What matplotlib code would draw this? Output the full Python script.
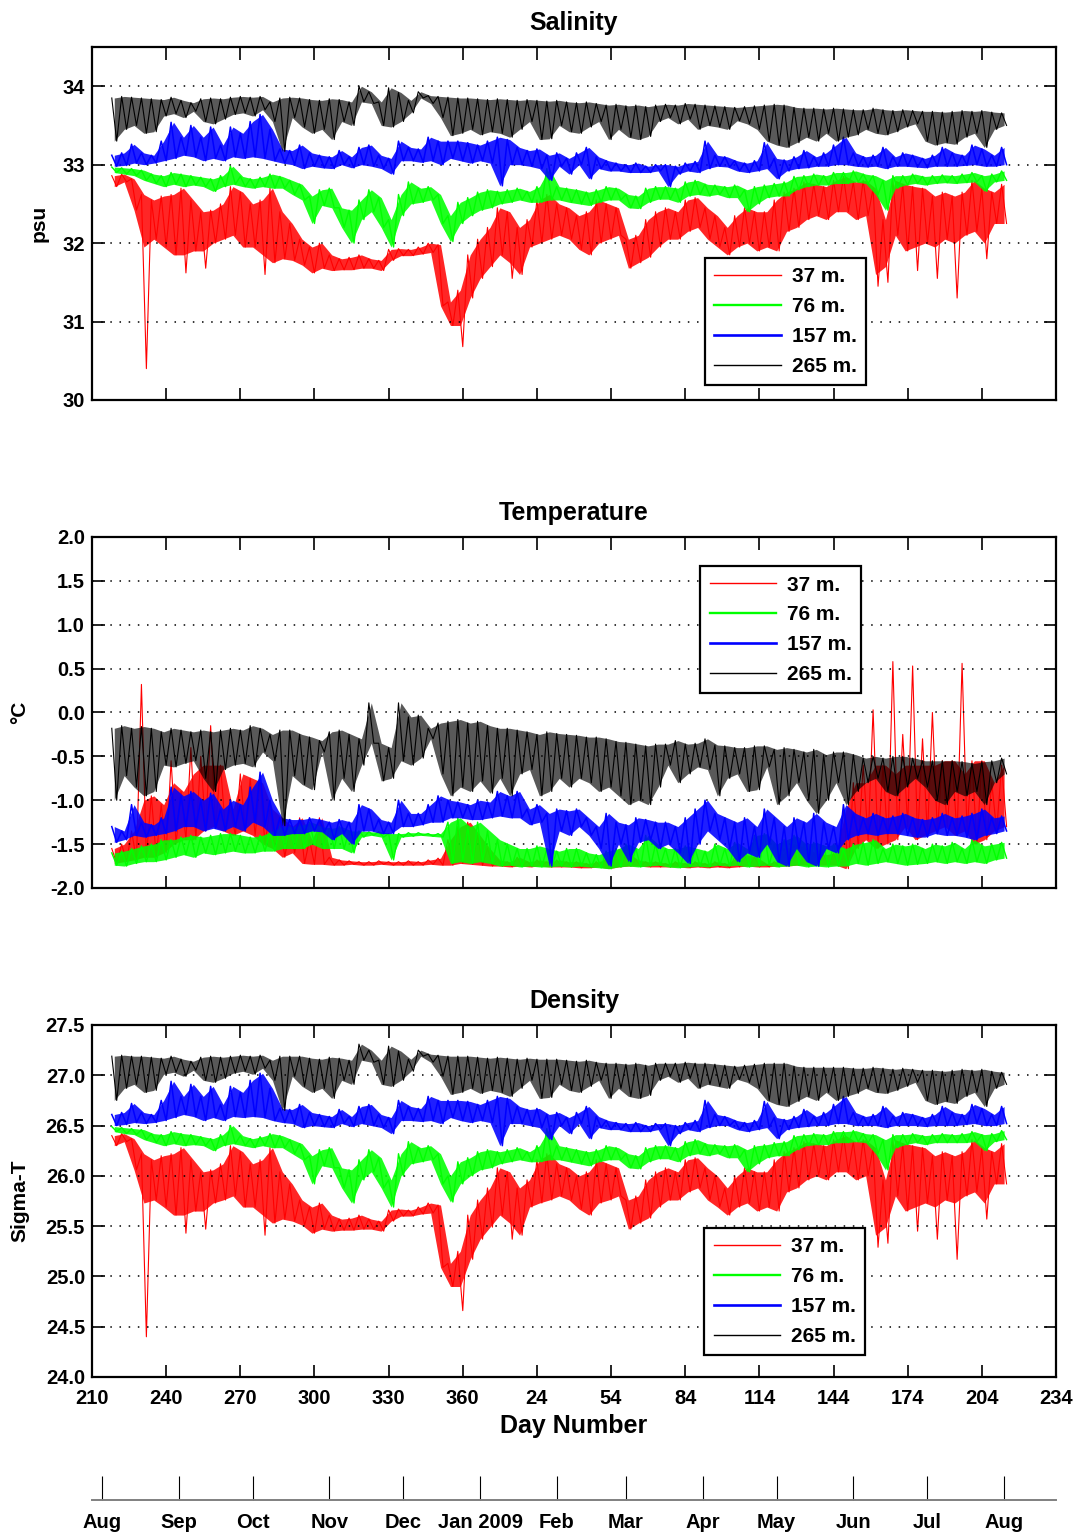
import numpy as np
import matplotlib
matplotlib.use("Agg")
import matplotlib.pyplot as plt
from matplotlib.lines import Line2D

plt.rcParams['font.family'] = ['Liberation Sans', 'DejaVu Sans']
plt.rcParams['font.weight'] = 'bold'

# ---------------- data (4-day bins starting at day 217, continuous day number) ----------
bin_start = np.arange(217, 581, 4)          # 91 bins
depth_labels = ['37 m.', '76 m.', '157 m.', '265 m.']
depth_colors = ['#ff0000', '#00ff00', '#0000ff', '#000000']

# Salinity (psu): per-bin maximum / minimum
sal_265_hi = [33.85, 33.87, 33.86, 33.85, 33.84, 33.83, 33.86, 33.82, 33.79, 33.84,
              33.85, 33.84, 33.86, 33.87, 33.86, 33.87, 33.80, 33.85, 33.86, 33.85,
              33.83, 33.82, 33.84, 33.83, 33.80, 34.00, 33.93, 33.80, 33.98, 33.92,
              33.82, 33.93, 33.88, 33.87, 33.86, 33.85, 33.85, 33.84, 33.83, 33.84,
              33.83, 33.82, 33.83, 33.82, 33.81, 33.82, 33.80, 33.79, 33.80, 33.78,
              33.76, 33.77, 33.75, 33.76, 33.74, 33.76, 33.77, 33.76, 33.78, 33.77,
              33.76, 33.75, 33.74, 33.73, 33.74, 33.75, 33.76, 33.77, 33.76, 33.73,
              33.72, 33.72, 33.71, 33.72, 33.71, 33.70, 33.70, 33.72, 33.70, 33.69,
              33.70, 33.69, 33.68, 33.68, 33.67, 33.68, 33.69, 33.68, 33.69, 33.67,
              33.66]
sal_265_lo = [33.30, 33.45, 33.50, 33.40, 33.42, 33.62, 33.65, 33.60, 33.68, 33.55,
              33.52, 33.58, 33.64, 33.66, 33.62, 33.70, 33.55, 33.17, 33.60, 33.48,
              33.40, 33.45, 33.32, 33.55, 33.50, 33.80, 33.78, 33.50, 33.48, 33.55,
              33.66, 33.85, 33.78, 33.60, 33.37, 33.40, 33.45, 33.38, 33.42, 33.40,
              33.35, 33.45, 33.55, 33.32, 33.33, 33.50, 33.42, 33.40, 33.48, 33.55,
              33.32, 33.45, 33.35, 33.32, 33.36, 33.55, 33.60, 33.52, 33.58, 33.45,
              33.50, 33.48, 33.45, 33.56, 33.52, 33.45, 33.30, 33.25, 33.22, 33.28,
              33.35, 33.30, 33.40, 33.30, 33.35, 33.38, 33.45, 33.40, 33.38, 33.42,
              33.48, 33.52, 33.30, 33.25, 33.28, 33.26, 33.35, 33.40, 33.22, 33.45,
              33.50]
sal_157_hi = [33.12, 33.15, 33.26, 33.15, 33.12, 33.30, 33.54, 33.35, 33.50, 33.35,
              33.48, 33.25, 33.48, 33.40, 33.55, 33.64, 33.45, 33.20, 33.18, 33.25,
              33.15, 33.12, 33.10, 33.18, 33.10, 33.22, 33.25, 33.12, 33.08, 33.30,
              33.22, 33.20, 33.35, 33.30, 33.30, 33.30, 33.28, 33.25, 33.30, 33.35,
              33.32, 33.22, 33.18, 33.20, 33.12, 33.15, 33.08, 33.15, 33.22, 33.10,
              33.05, 33.02, 33.00, 33.02, 32.98, 33.00, 33.00, 32.98, 33.02, 33.04,
              33.30, 33.12, 33.10, 33.05, 33.02, 33.05, 33.28, 33.08, 33.06, 33.10,
              33.18, 33.10, 33.15, 33.25, 33.35, 33.15, 33.10, 33.12, 33.22, 33.10,
              33.15, 33.12, 33.08, 33.12, 33.22, 33.15, 33.12, 33.25, 33.20, 33.12,
              33.22]
sal_157_lo = [32.98, 32.99, 33.02, 33.00, 33.02, 33.05, 33.08, 33.12, 33.10, 33.05,
              33.08, 33.05, 33.10, 33.08, 33.10, 33.08, 33.05, 33.02, 33.00, 32.95,
              32.98, 32.96, 32.95, 33.00, 32.96, 33.00, 32.98, 32.95, 32.88, 33.05,
              33.05, 33.03, 33.05, 33.00, 33.08, 33.05, 33.02, 33.05, 33.02, 32.73,
              33.00, 33.00, 32.98, 32.95, 32.80, 32.98, 32.88, 33.00, 32.82, 32.95,
              32.92, 32.92, 32.90, 32.90, 32.90, 32.92, 32.72, 32.88, 32.92, 32.90,
              32.95, 32.98, 32.97, 32.92, 32.90, 32.92, 32.95, 32.82, 32.92, 32.95,
              32.96, 32.98, 32.98, 33.00, 33.00, 32.98, 32.97, 32.98, 32.95, 32.98,
              32.98, 32.97, 32.96, 32.98, 32.98, 32.98, 32.99, 33.00, 32.98, 32.98,
              33.00]
sal_76_hi = [32.97, 32.96, 32.95, 32.93, 32.88, 32.86, 32.90, 32.88, 32.86, 32.84,
             32.82, 32.86, 32.98, 32.85, 32.82, 32.84, 32.88, 32.85, 32.80, 32.75,
             32.60, 32.68, 32.70, 32.45, 32.42, 32.55, 32.68, 32.58, 32.30, 32.62,
             32.78, 32.70, 32.72, 32.62, 32.35, 32.52, 32.58, 32.65, 32.68, 32.66,
             32.68, 32.70, 32.66, 32.72, 32.95, 32.72, 32.70, 32.68, 32.65, 32.68,
             32.72, 32.70, 32.62, 32.60, 32.70, 32.72, 32.72, 32.70, 32.78, 32.80,
             32.75, 32.74, 32.72, 32.74, 32.68, 32.72, 32.74, 32.76, 32.78, 32.85,
             32.86, 32.88, 32.86, 32.90, 32.90, 32.92, 32.88, 32.86, 32.80, 32.86,
             32.86, 32.88, 32.85, 32.86, 32.87, 32.86, 32.88, 32.90, 32.86, 32.88,
             32.92]
sal_76_lo = [32.90, 32.88, 32.86, 32.80, 32.76, 32.72, 32.75, 32.72, 32.74, 32.72,
             32.66, 32.72, 32.75, 32.72, 32.70, 32.72, 32.70, 32.70, 32.62, 32.55,
             32.25, 32.48, 32.45, 32.20, 32.00, 32.30, 32.40, 32.20, 31.95, 32.35,
             32.50, 32.52, 32.55, 32.25, 32.02, 32.25, 32.35, 32.42, 32.45, 32.50,
             32.52, 32.55, 32.52, 32.52, 32.55, 32.55, 32.52, 32.50, 32.48, 32.52,
             32.55, 32.55, 32.45, 32.44, 32.52, 32.56, 32.56, 32.52, 32.60, 32.62,
             32.60, 32.62, 32.58, 32.58, 32.40, 32.50, 32.58, 32.60, 32.60, 32.68,
             32.72, 32.74, 32.74, 32.76, 32.76, 32.78, 32.76, 32.62, 32.42, 32.70,
             32.74, 32.76, 32.74, 32.76, 32.77, 32.76, 32.77, 32.78, 32.66, 32.78,
             32.80]
sal_37_hi = [32.86, 32.88, 32.82, 32.62, 32.55, 32.60, 32.62, 32.70, 32.55, 32.40,
             32.42, 32.50, 32.72, 32.65, 32.50, 32.55, 32.70, 32.40, 32.25, 32.05,
             31.95, 32.00, 31.85, 31.80, 31.82, 31.85, 31.80, 31.78, 31.92, 31.93,
             31.92, 31.95, 32.00, 31.98, 31.25, 31.40, 31.85, 32.05, 32.20, 32.45,
             32.40, 32.20, 32.30, 32.55, 32.62, 32.50, 32.45, 32.35, 32.40, 32.55,
             32.50, 32.45, 32.05, 32.10, 32.30, 32.40, 32.45, 32.40, 32.55, 32.58,
             32.45, 32.35, 32.20, 32.35, 32.45, 32.40, 32.40, 32.55, 32.65, 32.70,
             32.78, 32.75, 32.72, 32.80, 32.85, 32.78, 32.80, 32.70, 32.30, 32.80,
             32.75, 32.72, 32.70, 32.60, 32.65, 32.60, 32.65, 32.80, 32.70, 32.65,
             32.75]
# minima including isolated downward spikes
sal_37_lo = [32.72, 32.78, 32.42, 30.40, 32.05, 31.95, 31.85, 31.62, 31.90, 31.68,
             32.00, 32.05, 32.10, 31.95, 31.95, 31.60, 31.75, 31.80, 31.78, 31.72,
             31.62, 31.68, 31.65, 31.66, 31.66, 31.68, 31.68, 31.65, 31.78, 31.84,
             31.84, 31.86, 31.88, 31.20, 30.95, 30.68, 31.30, 31.55, 31.70, 31.85,
             31.55, 31.60, 31.95, 32.00, 32.05, 32.10, 32.05, 31.92, 31.85, 32.00,
             32.05, 32.10, 31.68, 31.75, 31.82, 31.95, 32.05, 32.05, 32.15, 32.20,
             32.05, 31.95, 31.85, 31.95, 32.00, 31.90, 31.95, 31.90, 32.15, 32.20,
             32.30, 32.35, 32.30, 32.40, 32.40, 32.30, 32.35, 31.45, 31.50, 32.10,
             31.90, 31.65, 32.00, 31.55, 32.05, 31.30, 32.10, 32.15, 31.80, 32.25,
             32.25]
# lower edge of the dense band (spikes excluded)
sal_37_band_lo = [32.72, 32.78, 32.42, 31.95, 32.05, 31.95, 31.85, 31.85, 31.90, 31.90,
                  32.00, 32.05, 32.10, 31.95, 31.95, 31.85, 31.75, 31.80, 31.78, 31.72,
                  31.62, 31.68, 31.65, 31.66, 31.66, 31.68, 31.68, 31.65, 31.78, 31.84,
                  31.84, 31.86, 31.88, 31.20, 30.95, 30.95, 31.30, 31.55, 31.70, 31.85,
                  31.75, 31.60, 31.95, 32.00, 32.05, 32.10, 32.05, 31.92, 31.85, 32.00,
                  32.05, 32.10, 31.68, 31.75, 31.82, 31.95, 32.05, 32.05, 32.15, 32.20,
                  32.05, 31.95, 31.85, 31.95, 32.00, 31.90, 31.95, 31.90, 32.15, 32.20,
                  32.30, 32.35, 32.30, 32.40, 32.40, 32.30, 32.35, 31.60, 31.70, 32.10,
                  31.90, 31.95, 32.00, 31.95, 32.05, 32.00, 32.10, 32.15, 32.00, 32.25,
                  32.25]

# Temperature (deg C)
tmp_265_hi = [-0.18, -0.15, -0.18, -0.16, -0.18, -0.22, -0.18, -0.20, -0.22, -0.20,
              -0.22, -0.20, -0.18, -0.20, -0.15, -0.18, -0.25, -0.20, -0.20, -0.25,
              -0.28, -0.32, -0.22, -0.20, -0.25, -0.30, 0.11, -0.35, -0.40, 0.11,
              -0.05, -0.03, -0.18, -0.12, -0.10, -0.08, -0.12, -0.10, -0.15, -0.18,
              -0.18, -0.20, -0.22, -0.25, -0.22, -0.24, -0.25, -0.26, -0.28, -0.28,
              -0.30, -0.33, -0.34, -0.36, -0.38, -0.36, -0.36, -0.32, -0.36, -0.35,
              -0.30, -0.37, -0.38, -0.40, -0.40, -0.38, -0.38, -0.42, -0.40, -0.42,
              -0.45, -0.42, -0.48, -0.45, -0.45, -0.48, -0.52, -0.50, -0.52, -0.50,
              -0.50, -0.52, -0.55, -0.55, -0.55, -0.55, -0.56, -0.58, -0.56, -0.55,
              -0.52]
tmp_265_lo = [-1.00, -0.72, -0.85, -0.95, -0.90, -0.60, -0.62, -0.58, -0.55, -0.75,
              -0.90, -0.65, -0.60, -0.58, -0.62, -0.45, -0.55, -1.29, -0.72, -0.82,
              -0.88, -0.45, -1.00, -0.75, -0.90, -0.60, -0.35, -0.78, -0.75, -0.55,
              -0.60, -0.52, -0.30, -0.70, -0.95, -0.85, -0.90, -0.78, -0.92, -0.75,
              -0.95, -0.70, -0.65, -0.95, -0.90, -0.75, -0.85, -0.75, -0.80, -0.90,
              -0.85, -0.95, -1.05, -1.00, -1.05, -0.85, -0.60, -0.80, -0.70, -0.62,
              -0.65, -0.95, -0.75, -0.70, -0.90, -0.88, -0.62, -1.05, -0.95, -0.80,
              -1.00, -1.15, -1.00, -0.80, -1.05, -0.90, -0.80, -0.75, -0.90, -0.95,
              -0.85, -0.75, -0.85, -1.00, -1.05, -0.90, -0.95, -0.90, -1.05, -0.80,
              -0.70]
tmp_157_hi = [-1.30, -1.35, -1.05, -1.25, -1.28, -1.20, -0.85, -0.95, -0.90, -1.00,
              -0.92, -1.10, -1.00, -1.05, -0.85, -0.68, -1.00, -1.20, -1.22, -1.22,
              -1.20, -1.22, -1.25, -1.22, -1.25, -1.05, -1.10, -1.22, -1.25, -1.00,
              -1.15, -1.15, -1.05, -0.95, -1.00, -1.02, -1.05, -1.00, -1.02, -0.90,
              -0.95, -0.90, -1.10, -1.05, -1.15, -1.10, -1.12, -1.10, -1.20, -1.30,
              -1.15, -1.25, -1.28, -1.20, -1.22, -1.25, -1.25, -1.30, -1.20, -1.10,
              -1.00, -1.15, -1.20, -1.25, -1.20, -1.30, -1.10, -1.20, -1.30, -1.20,
              -1.25, -1.15, -1.25, -1.30, -1.05, -1.15, -1.20, -1.15, -1.20, -1.18,
              -1.15, -1.20, -1.22, -1.20, -1.15, -1.20, -1.18, -1.15, -1.10, -1.20,
              -1.18]
tmp_157_lo = [-1.48, -1.45, -1.40, -1.42, -1.40, -1.38, -1.35, -1.30, -1.30, -1.35,
              -1.32, -1.35, -1.30, -1.35, -1.25, -1.30, -1.40, -1.40, -1.38, -1.38,
              -1.35, -1.36, -1.45, -1.38, -1.50, -1.35, -1.35, -1.38, -1.38, -1.30,
              -1.30, -1.28, -1.25, -1.25, -1.20, -1.20, -1.22, -1.22, -1.20, -1.18,
              -1.20, -1.20, -1.28, -1.25, -1.75, -1.35, -1.40, -1.30, -1.40, -1.55,
              -1.75, -1.50, -1.70, -1.48, -1.45, -1.55, -1.50, -1.60, -1.72, -1.50,
              -1.35, -1.45, -1.55, -1.70, -1.60, -1.65, -1.50, -1.70, -1.75, -1.55,
              -1.70, -1.75, -1.55, -1.60, -1.45, -1.40, -1.38, -1.40, -1.38, -1.38,
              -1.40, -1.42, -1.42, -1.38, -1.40, -1.40, -1.42, -1.45, -1.40, -1.38,
              -1.35]
tmp_76_hi = [-1.60, -1.58, -1.55, -1.52, -1.50, -1.45, -1.45, -1.42, -1.40, -1.42,
             -1.40, -1.38, -1.38, -1.40, -1.42, -1.40, -1.35, -1.30, -1.30, -1.28,
             -1.25, -1.30, -1.32, -1.30, -1.35, -1.35, -1.36, -1.36, -1.38, -1.38,
             -1.37, -1.37, -1.38, -1.38, -1.25, -1.20, -1.30, -1.25, -1.35, -1.45,
             -1.50, -1.55, -1.55, -1.52, -1.55, -1.58, -1.55, -1.55, -1.60, -1.62,
             -1.58, -1.55, -1.50, -1.55, -1.40, -1.50, -1.55, -1.55, -1.52, -1.55,
             -1.58, -1.50, -1.55, -1.48, -1.55, -1.40, -1.38, -1.50, -1.45, -1.40,
             -1.50, -1.48, -1.52, -1.50, -1.55, -1.50, -1.48, -1.45, -1.55, -1.50,
             -1.52, -1.50, -1.55, -1.50, -1.52, -1.48, -1.55, -1.45, -1.52, -1.50,
             -1.48]
tmp_76_lo = [-1.74, -1.75, -1.72, -1.70, -1.70, -1.68, -1.65, -1.62, -1.65, -1.60,
             -1.62, -1.60, -1.58, -1.60, -1.60, -1.58, -1.58, -1.55, -1.55, -1.55,
             -1.50, -1.55, -1.55, -1.55, -1.60, -1.42, -1.40, -1.42, -1.68, -1.42,
             -1.41, -1.40, -1.41, -1.42, -1.72, -1.70, -1.72, -1.70, -1.72, -1.75,
             -1.74, -1.76, -1.75, -1.76, -1.76, -1.75, -1.76, -1.75, -1.76, -1.77,
             -1.78, -1.76, -1.75, -1.76, -1.75, -1.74, -1.76, -1.77, -1.76, -1.75,
             -1.76, -1.74, -1.75, -1.74, -1.76, -1.75, -1.74, -1.76, -1.75, -1.74,
             -1.76, -1.75, -1.76, -1.75, -1.75, -1.72, -1.74, -1.72, -1.70, -1.72,
             -1.74, -1.73, -1.72, -1.70, -1.72, -1.70, -1.72, -1.70, -1.72, -1.68,
             -1.66]
# maxima including isolated upward spikes
tmp_37_hi = [-1.55, -1.50, -1.35, 0.32, -0.95, -1.05, -0.55, -0.90, -0.40, -0.50,
             -0.15, -0.60, -1.10, -0.70, -0.75, -0.80, -1.10, -1.20, -1.30, -1.20,
             -1.45, -1.20, -1.65, -1.68, -1.69, -1.70, -1.70, -1.69, -1.70, -1.70,
             -1.69, -1.70, -1.68, -1.66, -1.45, -1.30, -1.25, -1.40, -1.55, -1.68,
             -1.70, -1.65, -1.70, -1.68, -1.70, -1.68, -1.70, -1.70, -1.72, -1.70,
             -1.66, -1.55, -1.60, -1.68, -1.70, -1.70, -1.72, -1.70, -1.72, -1.70,
             -1.72, -1.70, -1.72, -1.65, -1.62, -1.65, -1.72, -1.70, -1.55, -1.50,
             -1.55, -1.60, -1.62, -1.60, -1.10, -0.80, -0.60, 0.03, -0.60, 0.58,
             -0.25, 0.53, -0.30, 0.00, -0.55, -0.55, 0.56, -0.55, -0.55, -0.80,
             -0.60]
# upper edge of the dense band (spikes excluded)
tmp_37_band_hi = [-1.55, -1.50, -1.35, -1.00, -0.95, -1.05, -0.80, -0.90, -0.70, -0.60,
                  -0.60, -0.60, -1.10, -0.70, -0.75, -0.80, -1.10, -1.20, -1.30, -1.20,
                  -1.45, -1.20, -1.65, -1.68, -1.69, -1.70, -1.70, -1.69, -1.70, -1.70,
                  -1.69, -1.70, -1.68, -1.66, -1.45, -1.30, -1.25, -1.40, -1.55, -1.68,
                  -1.70, -1.65, -1.70, -1.68, -1.70, -1.68, -1.70, -1.70, -1.72, -1.70,
                  -1.66, -1.55, -1.60, -1.68, -1.70, -1.70, -1.72, -1.70, -1.72, -1.70,
                  -1.72, -1.70, -1.72, -1.65, -1.62, -1.65, -1.72, -1.70, -1.55, -1.50,
                  -1.55, -1.60, -1.62, -1.60, -1.10, -0.80, -0.80, -0.60, -0.60, -0.70,
                  -0.60, -0.60, -0.60, -0.60, -0.55, -0.55, -0.70, -0.55, -0.55, -0.80,
                  -0.60]
tmp_37_lo = [-1.72, -1.70, -1.68, -1.65, -1.65, -1.60, -1.50, -1.45, -1.45, -1.35,
             -1.30, -1.35, -1.40, -1.35, -1.40, -1.50, -1.55, -1.65, -1.60, -1.72,
             -1.73, -1.73, -1.74, -1.74, -1.73, -1.74, -1.74, -1.73, -1.74, -1.74,
             -1.74, -1.74, -1.73, -1.74, -1.74, -1.72, -1.73, -1.74, -1.75, -1.75,
             -1.76, -1.75, -1.76, -1.75, -1.76, -1.76, -1.76, -1.77, -1.77, -1.76,
             -1.78, -1.76, -1.75, -1.75, -1.76, -1.76, -1.76, -1.76, -1.77, -1.76,
             -1.77, -1.76, -1.77, -1.76, -1.75, -1.76, -1.76, -1.75, -1.75, -1.74,
             -1.74, -1.74, -1.74, -1.74, -1.78, -1.55, -1.45, -1.55, -1.50, -1.45,
             -1.30, -1.45, -1.40, -1.35, -1.30, -1.40, -1.35, -1.50, -1.45, -1.35,
             -1.30]

# Density (sigma-T)
den_265_hi = [27.19, 27.20, 27.19, 27.19, 27.18, 27.17, 27.19, 27.16, 27.14, 27.18,
              27.19, 27.18, 27.19, 27.20, 27.19, 27.20, 27.15, 27.19, 27.19, 27.19,
              27.17, 27.16, 27.18, 27.17, 27.15, 27.31, 27.25, 27.15, 27.29, 27.24,
              27.16, 27.25, 27.21, 27.20, 27.19, 27.19, 27.19, 27.18, 27.17, 27.18,
              27.17, 27.16, 27.17, 27.16, 27.16, 27.16, 27.15, 27.14, 27.15, 27.13,
              27.12, 27.12, 27.11, 27.12, 27.10, 27.12, 27.12, 27.12, 27.13, 27.12,
              27.12, 27.11, 27.10, 27.09, 27.10, 27.11, 27.12, 27.12, 27.12, 27.09,
              27.08, 27.08, 27.08, 27.08, 27.08, 27.07, 27.07, 27.08, 27.07, 27.06,
              27.07, 27.06, 27.05, 27.05, 27.04, 27.05, 27.06, 27.05, 27.06, 27.04,
              27.03]
den_265_lo = [26.75, 26.87, 26.91, 26.83, 26.85, 27.01, 27.03, 26.99, 27.05, 26.95,
              26.93, 26.97, 27.02, 27.04, 27.01, 27.07, 26.95, 26.65, 26.99, 26.89,
              26.83, 26.87, 26.77, 26.95, 26.91, 27.15, 27.13, 26.91, 26.89, 26.95,
              27.04, 27.19, 27.13, 26.99, 26.81, 26.83, 26.87, 26.82, 26.85, 26.83,
              26.79, 26.87, 26.95, 26.77, 26.78, 26.91, 26.85, 26.83, 26.89, 26.95,
              26.77, 26.87, 26.79, 26.77, 26.80, 26.95, 26.99, 26.93, 26.97, 26.87,
              26.91, 26.89, 26.87, 26.96, 26.93, 26.87, 26.75, 26.71, 26.69, 26.74,
              26.79, 26.75, 26.83, 26.75, 26.79, 26.82, 26.87, 26.83, 26.82, 26.85,
              26.89, 26.93, 26.75, 26.71, 26.74, 26.72, 26.79, 26.83, 26.69, 26.87,
              26.91]
den_157_hi = [26.61, 26.63, 26.72, 26.63, 26.61, 26.75, 26.94, 26.79, 26.91, 26.79,
              26.89, 26.71, 26.89, 26.83, 26.95, 27.02, 26.87, 26.67, 26.66, 26.71,
              26.63, 26.61, 26.59, 26.66, 26.59, 26.69, 26.71, 26.61, 26.58, 26.75,
              26.69, 26.67, 26.79, 26.75, 26.75, 26.75, 26.74, 26.71, 26.75, 26.79,
              26.77, 26.69, 26.66, 26.67, 26.61, 26.63, 26.58, 26.63, 26.69, 26.59,
              26.55, 26.53, 26.52, 26.53, 26.50, 26.52, 26.52, 26.50, 26.53, 26.55,
              26.75, 26.61, 26.59, 26.55, 26.53, 26.55, 26.74, 26.58, 26.56, 26.59,
              26.66, 26.59, 26.63, 26.71, 26.79, 26.63, 26.59, 26.61, 26.69, 26.59,
              26.63, 26.61, 26.58, 26.61, 26.69, 26.63, 26.61, 26.71, 26.67, 26.61,
              26.69]
den_157_lo = [26.50, 26.51, 26.53, 26.52, 26.53, 26.55, 26.58, 26.61, 26.59, 26.55,
              26.58, 26.55, 26.59, 26.58, 26.59, 26.58, 26.55, 26.53, 26.52, 26.48,
              26.50, 26.49, 26.48, 26.52, 26.49, 26.52, 26.50, 26.48, 26.42, 26.55,
              26.55, 26.54, 26.55, 26.52, 26.58, 26.55, 26.53, 26.55, 26.53, 26.30,
              26.52, 26.52, 26.50, 26.48, 26.36, 26.50, 26.42, 26.52, 26.37, 26.48,
              26.46, 26.46, 26.44, 26.44, 26.44, 26.46, 26.30, 26.42, 26.46, 26.44,
              26.48, 26.50, 26.50, 26.46, 26.44, 26.46, 26.48, 26.37, 26.46, 26.48,
              26.49, 26.50, 26.50, 26.52, 26.52, 26.50, 26.50, 26.50, 26.48, 26.50,
              26.50, 26.50, 26.49, 26.50, 26.50, 26.50, 26.51, 26.52, 26.50, 26.50,
              26.52]
den_76_hi = [26.49, 26.48, 26.47, 26.46, 26.42, 26.41, 26.44, 26.42, 26.41, 26.39,
             26.37, 26.41, 26.50, 26.40, 26.37, 26.39, 26.42, 26.40, 26.36, 26.32,
             26.20, 26.26, 26.28, 26.08, 26.06, 26.16, 26.26, 26.18, 25.96, 26.22,
             26.34, 26.28, 26.30, 26.22, 26.00, 26.14, 26.18, 26.24, 26.26, 26.24,
             26.26, 26.28, 26.24, 26.30, 26.47, 26.30, 26.28, 26.26, 26.24, 26.26,
             26.30, 26.28, 26.22, 26.20, 26.28, 26.30, 26.30, 26.28, 26.34, 26.36,
             26.32, 26.31, 26.30, 26.31, 26.26, 26.30, 26.31, 26.33, 26.34, 26.40,
             26.41, 26.42, 26.41, 26.44, 26.44, 26.45, 26.42, 26.41, 26.36, 26.41,
             26.41, 26.42, 26.40, 26.41, 26.42, 26.41, 26.42, 26.44, 26.41, 26.42,
             26.45]
den_76_lo = [26.44, 26.42, 26.41, 26.36, 26.33, 26.30, 26.32, 26.30, 26.31, 26.30,
             26.25, 26.30, 26.32, 26.30, 26.28, 26.30, 26.28, 26.28, 26.22, 26.16,
             25.92, 26.10, 26.08, 25.88, 25.73, 25.96, 26.04, 25.88, 25.69, 26.00,
             26.12, 26.14, 26.16, 25.92, 25.74, 25.92, 26.00, 26.06, 26.08, 26.12,
             26.14, 26.16, 26.14, 26.14, 26.16, 26.16, 26.14, 26.12, 26.10, 26.14,
             26.16, 26.16, 26.08, 26.07, 26.14, 26.17, 26.17, 26.14, 26.20, 26.22,
             26.20, 26.22, 26.18, 26.18, 26.04, 26.12, 26.18, 26.20, 26.20, 26.26,
             26.30, 26.31, 26.31, 26.33, 26.33, 26.34, 26.33, 26.22, 26.06, 26.28,
             26.31, 26.33, 26.31, 26.33, 26.33, 26.33, 26.33, 26.34, 26.25, 26.34,
             26.36]
den_37_hi = [26.40, 26.42, 26.37, 26.22, 26.16, 26.20, 26.22, 26.28, 26.16, 26.04,
             26.06, 26.12, 26.30, 26.24, 26.12, 26.16, 26.28, 26.04, 25.92, 25.76,
             25.69, 25.73, 25.61, 25.57, 25.58, 25.61, 25.57, 25.55, 25.66, 25.67,
             25.66, 25.69, 25.73, 25.71, 25.13, 25.25, 25.61, 25.76, 25.88, 26.08,
             26.04, 25.88, 25.96, 26.16, 26.22, 26.12, 26.08, 26.00, 26.04, 26.16,
             26.12, 26.08, 25.76, 25.80, 25.96, 26.04, 26.08, 26.04, 26.16, 26.18,
             26.08, 26.00, 25.88, 26.00, 26.08, 26.04, 26.04, 26.16, 26.24, 26.28,
             26.34, 26.32, 26.30, 26.36, 26.40, 26.34, 26.36, 26.28, 25.96, 26.36,
             26.32, 26.30, 26.28, 26.20, 26.24, 26.20, 26.24, 26.36, 26.28, 26.24,
             26.32]
den_37_lo = [26.30, 26.34, 26.06, 24.40, 25.76, 25.69, 25.61, 25.43, 25.65, 25.47,
             25.73, 25.76, 25.80, 25.69, 25.69, 25.41, 25.53, 25.57, 25.55, 25.51,
             25.43, 25.47, 25.45, 25.46, 25.46, 25.47, 25.47, 25.45, 25.55, 25.60,
             25.60, 25.62, 25.63, 25.09, 24.90, 24.66, 25.17, 25.37, 25.49, 25.61,
             25.37, 25.41, 25.69, 25.73, 25.76, 25.80, 25.76, 25.67, 25.61, 25.73,
             25.76, 25.80, 25.47, 25.53, 25.58, 25.69, 25.76, 25.76, 25.84, 25.88,
             25.76, 25.69, 25.61, 25.69, 25.73, 25.65, 25.69, 25.65, 25.84, 25.88,
             25.96, 26.00, 25.96, 26.04, 26.04, 25.96, 26.00, 25.29, 25.33, 25.80,
             25.65, 25.45, 25.73, 25.37, 25.76, 25.17, 25.80, 25.84, 25.57, 25.92,
             25.92]
den_37_band_lo = [26.30, 26.34, 26.06, 25.73, 25.76, 25.69, 25.61, 25.61, 25.65, 25.65,
                  25.73, 25.76, 25.80, 25.69, 25.69, 25.61, 25.53, 25.57, 25.55, 25.51,
                  25.43, 25.47, 25.45, 25.46, 25.46, 25.47, 25.47, 25.45, 25.55, 25.60,
                  25.60, 25.62, 25.63, 25.09, 24.90, 24.90, 25.17, 25.37, 25.49, 25.61,
                  25.53, 25.41, 25.69, 25.73, 25.76, 25.80, 25.76, 25.67, 25.61, 25.73,
                  25.76, 25.80, 25.47, 25.53, 25.58, 25.69, 25.76, 25.76, 25.84, 25.88,
                  25.76, 25.69, 25.61, 25.69, 25.73, 25.65, 25.69, 25.65, 25.84, 25.88,
                  25.96, 26.00, 25.96, 26.04, 26.04, 25.96, 26.00, 25.41, 25.49, 25.80,
                  25.65, 25.69, 25.73, 25.69, 25.76, 25.73, 25.80, 25.84, 25.73, 25.92,
                  25.92]

# Axis ticks / labels
day_ticks = [210, 240, 270, 300, 330, 360, 390, 420, 450, 480, 510, 540, 570, 600]
day_tick_labels = ['210', '240', '270', '300', '330', '360', '24', '54', '84',
                   '114', '144', '174', '204', '234']
month_ticks = [214, 245, 275, 306, 336, 367, 398, 426, 457, 487, 518, 548, 579]
month_labels = ['Aug', 'Sep', 'Oct', 'Nov', 'Dec', 'Jan 2009', 'Feb', 'Mar',
                'Apr', 'May', 'Jun', 'Jul', 'Aug']

# ---------------- drawing ----------------
W, H = 1078, 1534
fig = plt.figure(figsize=(W / 100, H / 100), dpi=100)

def frac_rect(x0, y0, x1, y1):
    return [x0 / W, 1 - y1 / H, (x1 - x0) / W, (y1 - y0) / H]

x_pts = np.empty(2 * len(bin_start))
x_pts[0::2] = bin_start + 1
x_pts[1::2] = bin_start + 3
x_mid = bin_start + 2

def zig(hi, lo):
    y = np.empty(2 * len(hi))
    y[0::2] = hi
    y[1::2] = lo
    return y

widths = [0.8, 1.0, 1.1, 0.8]
fill_alpha = [0.85, 0.88, 0.88, 0.65]
zorders = [2, 3, 4, 5]
TICK_FS = 14.5

def style_axes(ax, ylim, yticks, ylabels, title, ylabel, show_x, leg_anchor):
    ax.set_xlim(210, 600)
    ax.set_ylim(*ylim)
    ax.set_xticks(day_ticks)
    ax.set_yticks(yticks)
    ax.set_yticklabels(ylabels, fontsize=TICK_FS, fontweight='bold')
    if show_x:
        ax.set_xticklabels(day_tick_labels, fontsize=TICK_FS, fontweight='bold')
        ax.set_xlabel('Day Number', fontsize=18, fontweight='bold', labelpad=4)
    else:
        ax.set_xticklabels([])
    ax.tick_params(direction='in', length=9, width=1.2, top=True, right=True)
    ax.tick_params(axis='y', pad=5)
    ax.tick_params(axis='x', pad=9)
    for s in ax.spines.values():
        s.set_linewidth(1.6)
        s.set_zorder(20)
    ax.yaxis.grid(True, color='black', linestyle=(0, (1, 5)), linewidth=1.1)
    ax.set_axisbelow(False)
    ax.set_title(title, fontsize=18, fontweight='bold', pad=12)
    ax.set_ylabel(ylabel, fontsize=15, fontweight='bold')
    handles = [Line2D([], [], color=c, lw=w) for c, w in zip(depth_colors, [1.0, 1.7, 1.9, 1.0])]
    leg = ax.legend(handles, depth_labels, loc='upper left', bbox_to_anchor=leg_anchor,
                    borderaxespad=0.0, frameon=True, fancybox=False, edgecolor='black',
                    framealpha=1, handlelength=3.2, borderpad=0.45, labelspacing=0.52,
                    handletextpad=0.5, prop={'weight': 'bold', 'size': 15})
    leg.get_frame().set_linewidth(1.6)
    leg.set_zorder(30)

def draw(ax, series):
    # each entry: (line_hi, line_lo, band_hi, band_lo)
    for (hi, lo, bhi, blo), c, w, a, z in zip(series, depth_colors, widths, fill_alpha, zorders):
        ax.fill_between(x_mid, blo, bhi, color=c, alpha=a, lw=0, zorder=z)
        ax.plot(x_pts, zig(hi, lo), color=c, lw=w, zorder=z)

# Salinity
ax1 = fig.add_axes(frac_rect(92, 47, 1056, 400))
draw(ax1, [(sal_37_hi, sal_37_lo, sal_37_hi, sal_37_band_lo),
           (sal_76_hi, sal_76_lo, sal_76_hi, sal_76_lo),
           (sal_157_hi, sal_157_lo, sal_157_hi, sal_157_lo),
           (sal_265_hi, sal_265_lo, sal_265_hi, sal_265_lo)])
style_axes(ax1, (30, 34.5), [30, 31, 32, 33, 34], ['30', '31', '32', '33', '34'],
           'Salinity', 'psu', False, (0.636, 0.402))

# Temperature
t_ticks = [-2.0, -1.5, -1.0, -0.5, 0.0, 0.5, 1.0, 1.5, 2.0]
ax2 = fig.add_axes(frac_rect(92, 537, 1056, 888))
draw(ax2, [(tmp_37_hi, tmp_37_lo, tmp_37_band_hi, tmp_37_lo),
           (tmp_76_hi, tmp_76_lo, tmp_76_hi, tmp_76_lo),
           (tmp_157_hi, tmp_157_lo, tmp_157_hi, tmp_157_lo),
           (tmp_265_hi, tmp_265_lo, tmp_265_hi, tmp_265_lo)])
style_axes(ax2, (-2, 2), t_ticks, ['%.1f' % v for v in t_ticks],
           'Temperature', '°C', False, (0.631, 0.917))

# Density
d_ticks = [24.0, 24.5, 25.0, 25.5, 26.0, 26.5, 27.0, 27.5]
ax3 = fig.add_axes(frac_rect(92, 1025, 1056, 1377))
draw(ax3, [(den_37_hi, den_37_lo, den_37_hi, den_37_band_lo),
           (den_76_hi, den_76_lo, den_76_hi, den_76_lo),
           (den_157_hi, den_157_lo, den_157_hi, den_157_lo),
           (den_265_hi, den_265_lo, den_265_hi, den_265_lo)])
style_axes(ax3, (24, 27.5), d_ticks, ['%.1f' % v for v in d_ticks],
           'Density', 'Sigma-T', True, (0.635, 0.423))

# y-label placement
ax1.yaxis.set_label_coords(-0.045, 0.5)
ax2.yaxis.set_label_coords(-0.065, 0.5)
ax3.yaxis.set_label_coords(-0.065, 0.5)

# Month axis
ax4 = fig.add_axes(frac_rect(92, 1499, 1056, 1500))
ax4.set_xlim(210, 600)
ax4.set_ylim(0, 1)
for side in ['left', 'right', 'top']:
    ax4.spines[side].set_visible(False)
ax4.spines['bottom'].set_color('#808080')
ax4.spines['bottom'].set_linewidth(1.4)
ax4.set_yticks([])
ax4.set_xticks(month_ticks)
ax4.set_xticklabels(month_labels, fontsize=TICK_FS, fontweight='bold')
ax4.tick_params(axis='x', direction='in', length=17, width=0.8, color='black', pad=9)
ax4.patch.set_visible(False)

fig.savefig('out.png', dpi=100)
